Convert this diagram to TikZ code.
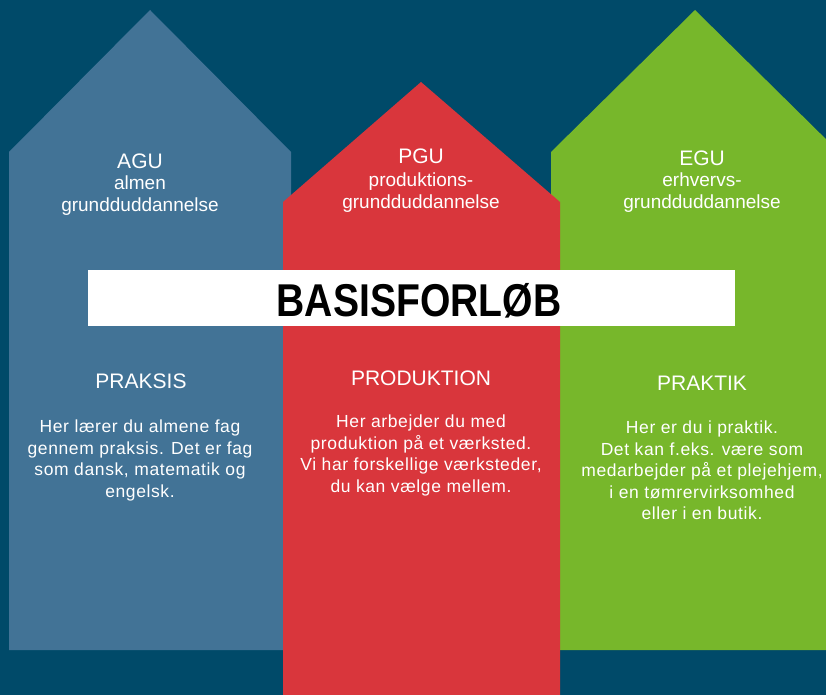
\documentclass[tikz,border=0pt]{standalone}
\usepackage{fontspec}
\setmainfont{Liberation Sans}
\newfontfamily\bannerfont{Liberation Sans}[FakeStretch=0.85]
\definecolor{bund}{RGB}{0,74,105}
\definecolor{agublaa}{RGB}{66,115,150}
\definecolor{pgurod}{RGB}{217,54,60}
\definecolor{egugron}{RGB}{119,183,43}

\begin{document}
\begin{tikzpicture}[x=1pt, y=-1pt, every node/.style={text=white, inner sep=0pt},
		titel/.style={font=\fontsize{21}{24}\selectfont, anchor=base},
		undertitel/.style={font=\fontsize{19}{21.5}\selectfont, align=center, anchor=north},
		tekst/.style={font=\fontsize{17.5}{21.4}\selectfont\addfontfeature{LetterSpace=3.5}, align=center, anchor=north}]
				\clip (0,0) rectangle (826,695);
				\fill[bund] (0,0) rectangle (826,695);

				\fill[agublaa] (9,650) -- (9,152) -- (150,10) -- (291,152) -- (291,650) -- cycle;
				\fill[egugron] (551,650) -- (551,152) -- (695,10) -- (839,152) -- (839,650) -- cycle;
				\fill[pgurod] (283,695) -- (283,202) -- (421,82) -- (560,202) -- (560,695) -- cycle;

				\node[titel] (agu) at (140,168) {AGU};
				\node[undertitel] (agunavn) at (140,176) {almen\\grundduddannelse};
				\node[titel] (pgu) at (421,164) {PGU};
				\node[undertitel] (pgunavn) at (421,173) {produktions-\\grundduddannelse};
				\node[titel] (egu) at (702,165) {EGU};
				\node[undertitel] (egunavn) at (702,173) {erhvervs-\\grundduddannelse};

				\fill[white] (88,270) rectangle (735,326);
				\node[anchor=base, text=black, font=\bannerfont\bfseries\fontsize{46}{50}\selectfont] (basis) at (419,316) {BASISFORLØB};

				\node[titel] (praksis) at (141,388) {PRAKSIS};
				\node[titel] (produktion) at (421,385) {PRODUKTION};
				\node[titel] (praktik) at (702,390) {PRAKTIK};

				\node[tekst] (agutekst) at (140,420) {Her lærer du almene fag\\gennem praksis. Det er fag\\som dansk, matematik og\\engelsk.};
				\node[tekst] (pgutekst) at (421,415) {Her arbejder du med\\produktion på et værksted.\\Vi har forskellige værksteder,\\du kan vælge mellem.};
				\node[tekst] (egutekst) at (702,421) {Her er du i praktik.\\Det kan f.eks. være som\\medarbejder på et plejehjem,\\i en tømrervirksomhed\\eller i en butik.};

			\end{tikzpicture}
\end{document}
